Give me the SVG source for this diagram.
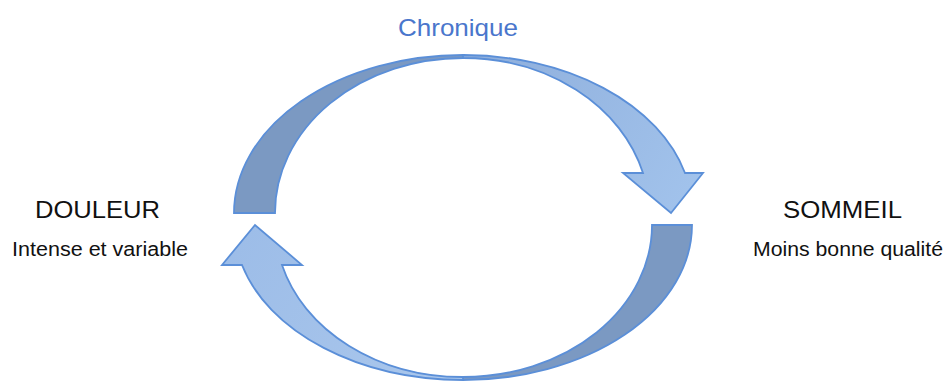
<svg xmlns="http://www.w3.org/2000/svg" width="949" height="381" viewBox="0 0 949 381">
  <style>
    .band { stroke: #5b8fd8; stroke-width: 1.8; stroke-linejoin: miter; }
    .dark { fill: #7b99c2; }
    .title { font-family: "Liberation Sans", Arial, sans-serif; font-size: 24px; fill: #111; }
    .sub { font-family: "Liberation Sans", Arial, sans-serif; font-size: 19.5px; fill: #111; }
    .chron { font-family: "Liberation Sans", Arial, sans-serif; font-size: 24px; fill: #4a76cc; }
  </style>
  <defs>
    <linearGradient id="lightTop" x1="463" y1="55" x2="700" y2="200" gradientUnits="userSpaceOnUse">
      <stop offset="0" stop-color="#8eaedb"/>
      <stop offset="1" stop-color="#a2c3ec"/>
    </linearGradient>
    <linearGradient id="lightBot" x1="463" y1="378" x2="240" y2="240" gradientUnits="userSpaceOnUse">
      <stop offset="0" stop-color="#aac7ec"/>
      <stop offset="1" stop-color="#9dbde8"/>
    </linearGradient>
  </defs>

  <g id="connectors">
    <g id="arrow-top">
      <path class="band dark" d="M 234 213 A 229 158 0 0 1 463 55 L 463 58 A 188 155 0 0 0 275 213 Z"/>
      <path class="band" fill="url(#lightTop)" d="M 463 55 A 229 158 0 0 1 685 173 L 703 173 L 671 213 L 623 173 L 643 173 A 186 155 0 0 0 463 58 Z"/>
    </g>
    <g id="arrow-bottom">
      <path class="band dark" d="M 692 225 A 229 155 0 0 1 463 380 L 463 377 A 189 152 0 0 0 652 225 Z"/>
      <path class="band" fill="url(#lightBot)" d="M 463 380 A 229 155 0 0 1 242 265 L 222 265 L 255 225 L 302 265 L 282 265 A 187 152 0 0 0 463 377 Z"/>
    </g>
  </g>

  <g id="label-chronique">
    <text class="chron" x="398" y="36" textLength="120" lengthAdjust="spacingAndGlyphs">Chronique</text>
  </g>

  <g id="node-douleur">
    <text class="title" x="35" y="218" textLength="125" lengthAdjust="spacingAndGlyphs">DOULEUR</text>
    <text class="sub" x="12" y="256" textLength="176" lengthAdjust="spacingAndGlyphs">Intense et variable</text>
  </g>

  <g id="node-sommeil">
    <text class="title" x="783" y="218" textLength="119" lengthAdjust="spacingAndGlyphs">SOMMEIL</text>
    <text class="sub" x="753" y="256" textLength="190" lengthAdjust="spacingAndGlyphs">Moins bonne qualité</text>
  </g>
</svg>
